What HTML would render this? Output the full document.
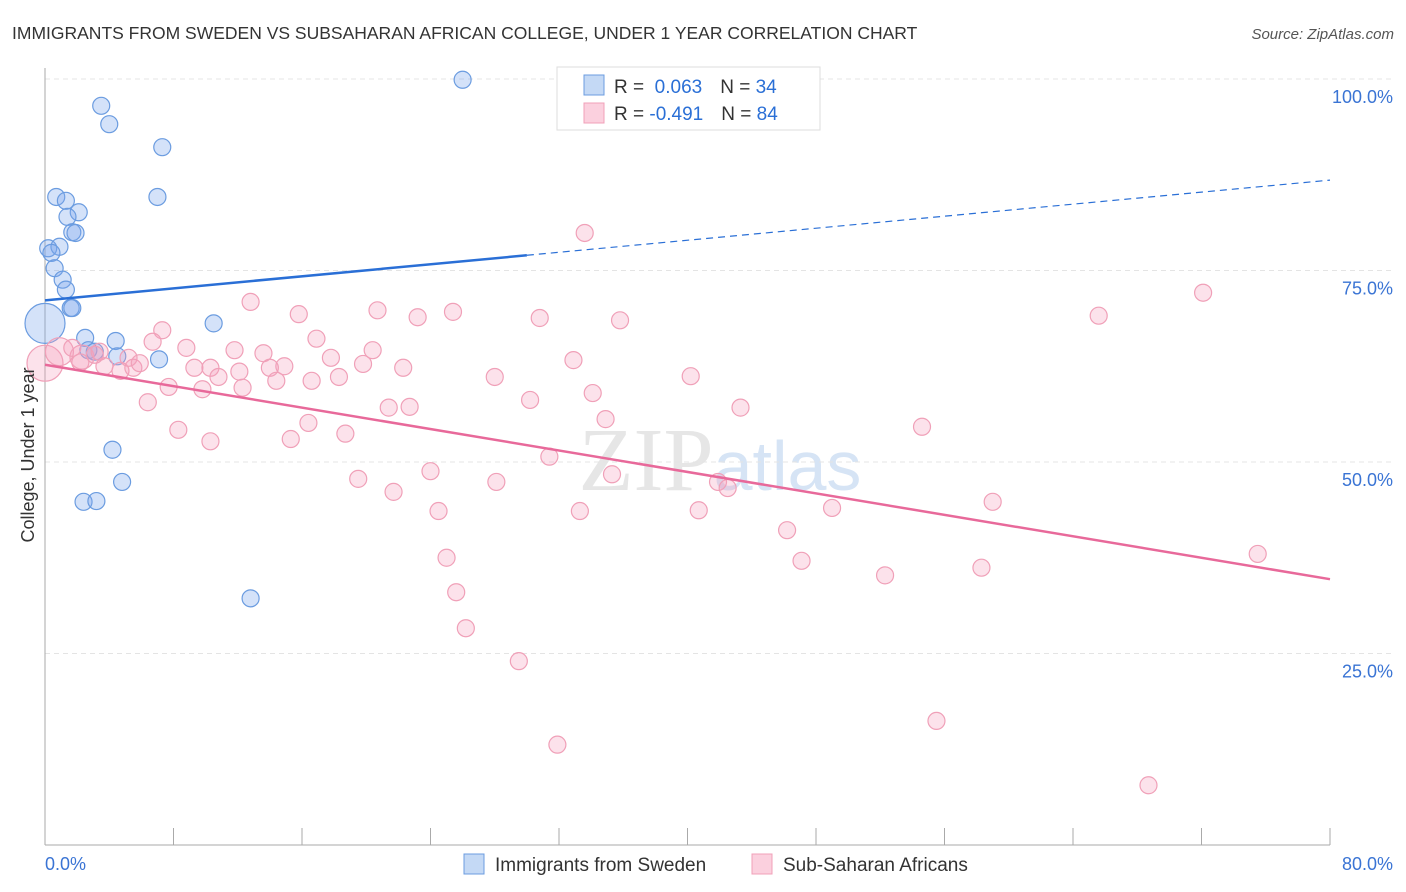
<!DOCTYPE html>
<html><head><meta charset="utf-8"><style>
body{margin:0;background:#fff;font-family:"Liberation Sans",sans-serif;}
svg{display:block}
</style></head><body>
<svg id="chart" width="1406" height="892" font-family="Liberation Sans, sans-serif">
<text x="12" y="39" font-size="17.5" fill="#333">IMMIGRANTS FROM SWEDEN VS SUBSAHARAN AFRICAN COLLEGE, UNDER 1 YEAR CORRELATION CHART</text>
<text x="1394" y="39" font-size="15" fill="#555" font-style="italic" text-anchor="end">Source: ZipAtlas.com</text>
<text x="720" y="490" font-size="90" fill="#e6e6e6" text-anchor="middle" font-family="Liberation Serif, serif">ZIP<tspan fill="#d6e4f5" font-family="Liberation Sans, sans-serif" font-size="70">atlas</tspan></text>
<g id="grid"></g><g id="axes"></g><g id="marks"></g>
<text transform="translate(34,455) rotate(-90)" font-size="18" fill="#333" text-anchor="middle">College, Under 1 year</text>
<g>
<rect x="557" y="67" width="263" height="63" fill="#fff" stroke="#ddd"/>
<rect x="584" y="75" width="20" height="20" fill="#c4d9f5" stroke="#6b9ce0"/>
<rect x="584" y="103" width="20" height="20" fill="#fbd0de" stroke="#f0a0b8"/>
<text x="614" y="93" font-size="19" fill="#333">R = <tspan fill="#2a6fd6">&#160;0.063</tspan><tspan dx="18">N = </tspan><tspan fill="#2a6fd6">34</tspan></text>
<text x="614" y="120" font-size="19" fill="#333">R = <tspan fill="#2a6fd6">-0.491</tspan><tspan dx="18">N = </tspan><tspan fill="#2a6fd6">84</tspan></text>
</g>
<g>
<rect x="464" y="854" width="20" height="20" fill="#c4d9f5" stroke="#6b9ce0"/>
<text x="495" y="871" font-size="19" fill="#333">Immigrants from Sweden</text>
<rect x="752" y="854" width="20" height="20" fill="#fbd0de" stroke="#f0a0b8"/>
<text x="783" y="871" font-size="19" fill="#333">Sub-Saharan Africans</text>
</g>
</svg>
<script>
const blueX=[26.0,3.5,4.0,7.3,7.0,0.7,1.3,2.1,1.4,1.7,1.9,0.2,0.9,0.4,0.6,1.1,1.3,1.6,1.7,0.0,2.5,4.4,2.7,3.1,10.5,7.1,4.5,4.2,4.8,2.4,3.2,12.8];
const blueY=[99.9,96.5,94.1,91.1,84.6,84.6,84.1,82.6,82.0,80.0,79.9,77.9,78.1,77.3,75.3,73.8,72.5,70.1,70.1,68.1,66.2,65.8,64.6,64.4,68.1,63.4,63.8,51.6,47.4,44.8,44.9,32.2];
const pinkX=[33.6,72.1,12.8,65.6,20.7,15.8,25.4,23.2,30.8,35.8,7.3,16.9,6.7,8.8,11.8,13.6,20.4,17.8,32.9,10.3,14.9,19.8,22.3,14.0,9.3,12.1,10.8,16.6,18.3,28.0,40.2,14.4,7.7,9.8,12.3,34.1,6.4,30.2,21.4,22.7,43.3,34.9,16.4,8.3,18.7,54.6,10.3,15.3,31.4,24.0,35.3,19.5,28.1,41.9,21.7,42.5,59.0,24.5,33.3,40.7,49.0,46.2,47.1,25.0,52.3,58.3,75.5,25.6,26.2,29.5,55.5,31.9,68.7,0,0.9,2.3,1.7,3.1,3.7,4.7,5.5,5.2,5.9,3.4,2.2];
const pinkY=[79.9,72.1,70.9,69.1,69.8,69.3,69.6,68.9,68.8,68.5,67.2,66.1,65.7,64.9,64.6,64.2,64.6,63.6,63.3,62.3,62.5,62.8,62.3,62.3,62.3,61.8,61.1,60.6,61.1,61.1,61.2,60.6,59.8,59.5,59.7,59.0,57.8,58.1,57.1,57.2,57.1,55.6,55.1,54.2,53.7,54.6,52.7,53.0,50.7,48.8,48.4,47.8,47.4,47.4,46.1,46.6,44.8,43.6,43.6,43.7,44.0,41.1,37.1,37.5,35.2,36.2,38.0,33.0,28.3,24.0,16.2,13.1,7.8,62.9,64.4,63.7,64.9,64.0,62.5,61.9,62.3,63.6,62.9,64.4,63.0];
const blueTrend=[71.1,86.8];
const pinkTrend=[62.7,34.7];
const yTicks=[25,50,75,100];
const yTickLabels=["25.0%","50.0%","75.0%","100.0%"];
const xTicks=[0,8,16,24,32,40,48,56,64,72,80];
const NS="http://www.w3.org/2000/svg";
const sx=v=>45+v*(1285/80);
const sy=v=>845-v*7.66;
function mk(tag,attrs,parent){const e=document.createElementNS(NS,tag);for(const k in attrs)e.setAttribute(k,attrs[k]);parent.appendChild(e);return e;}
const grid=document.getElementById('grid'),axes=document.getElementById('axes'),marks=document.getElementById('marks');
yTicks.forEach((t,i)=>{
 const l=mk('line',{x1:45,x2:1393,y1:sy(t),y2:sy(t),stroke:'#e4e4e4','stroke-dasharray':'5,4'},grid);
 
 
 const tx=mk('text',{x:1393,y:sy(t)+24,'font-size':18,fill:'#3a74d4','text-anchor':'end'},axes);
 tx.textContent=yTickLabels[i];
 
 
});
const ya=mk('line',{x1:45,x2:45,y1:68,y2:845,stroke:'#aaa'},axes);


const xa=mk('line',{x1:45,x2:1330,y1:845,y2:845,stroke:'#aaa'},axes);


xTicks.forEach(t=>{
 const l=mk('line',{x1:sx(t),x2:sx(t),y1:828,y2:845,stroke:'#aaa'},axes);
 
 
});
const x0=mk('text',{x:45,y:870,'font-size':18,fill:'#3a74d4'},axes);x0.textContent='0.0%';


const x1=mk('text',{x:1393,y:870,'font-size':18,fill:'#3a74d4','text-anchor':'end'},axes);x1.textContent='80.0%';


blueX.forEach((x,i)=>{
 const c=mk('circle',{cx:sx(x),cy:sy(blueY[i]),r:(x===0?20:8.5),fill:'rgba(120,165,235,0.32)',stroke:'#6b9ce0','stroke-width':1.2},marks);
 
 
});
pinkX.forEach((x,i)=>{
 const r=(x===0?18:(i===74?14:(i===75?12:8.5)));
 const c=mk('circle',{cx:sx(x),cy:sy(pinkY[i]),r:r,fill:'rgba(245,160,190,0.3)',stroke:'#f0a0b8','stroke-width':1.2},marks);
 
 
});
const bMid=blueTrend[0]+(blueTrend[1]-blueTrend[0])*(30/80);
const b1=mk('line',{x1:sx(0),y1:sy(blueTrend[0]),x2:sx(30),y2:sy(bMid),stroke:'#2a6fd6','stroke-width':2.5},marks);


const b2=mk('line',{x1:sx(30),y1:sy(bMid),x2:sx(80),y2:sy(blueTrend[1]),stroke:'#2a6fd6','stroke-width':1.2,'stroke-dasharray':'7,5'},marks);


const p1=mk('line',{x1:sx(0),y1:sy(pinkTrend[0]),x2:sx(80),y2:sy(pinkTrend[1]),stroke:'#e8699a','stroke-width':2.5},marks);


</script>
</body></html>
